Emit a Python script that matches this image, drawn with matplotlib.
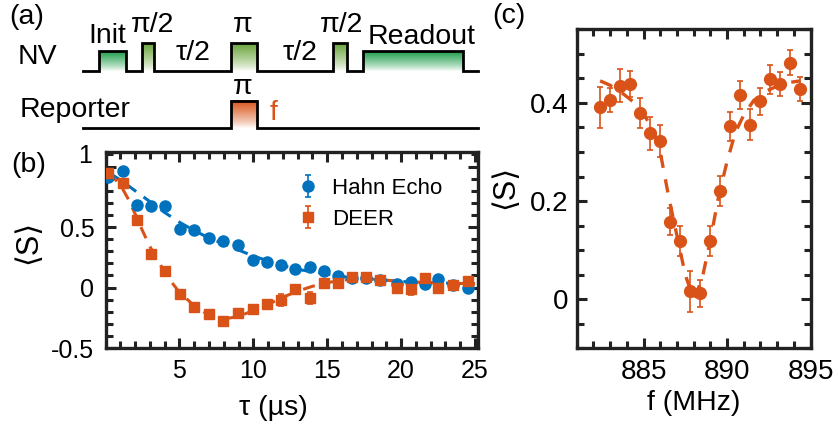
import matplotlib

matplotlib.use("Agg")
import matplotlib.pyplot as plt
import numpy as np
from matplotlib.colors import LinearSegmentedColormap
from matplotlib.ticker import MultipleLocator

plt.rcParams["font.family"] = ["Liberation Sans", "DejaVu Sans"]
plt.rcParams["axes.unicode_minus"] = False

BLUE = "#0072bd"
ORANGE = "#d95319"
INK = "#222222"
GREEN = "#1f9e4c"
OLIVE = "#6aa43a"

W, H = 838, 426

# (b) spin echo signal vs free evolution time
tau_us = [0.15, 1.2, 2.1, 3.1, 4.05, 5.05, 6.0, 7.0, 7.95, 8.95, 9.95, 10.9,
          11.85, 12.8, 13.85, 14.8, 15.7, 16.7, 17.65, 18.6, 19.7, 20.65,
          21.6, 22.5, 23.5, 24.55]
hahn_s = [0.91, 0.96, 0.68, 0.67, 0.67, 0.48, 0.475, 0.41, 0.385, 0.35, 0.23,
          0.21, 0.19, 0.15, 0.17, 0.135, 0.095, 0.08, 0.08, 0.06, 0.03, 0.045,
          0.03, 0.07, 0.02, 0.0]
hahn_err = [0.02, 0.02, 0.03, 0.03, 0.02, 0.02, 0.02, 0.03, 0.02, 0.02, 0.02,
            0.02, 0.03, 0.02, 0.03, 0.02, 0.02, 0.02, 0.02, 0.02, 0.02, 0.02,
            0.02, 0.03, 0.02, 0.02]
deer_s = [0.95, 0.86, 0.56, 0.28, 0.14, -0.05, -0.16, -0.22, -0.28, -0.21,
          -0.18, -0.14, -0.10, -0.01, -0.085, 0.04, 0.04, 0.085, 0.085, 0.065,
          0.0, -0.01, 0.08, 0.0, 0.02, 0.05]
deer_err = [0.02, 0.02, 0.02, 0.02, 0.02, 0.02, 0.02, 0.02, 0.02, 0.02, 0.02,
            0.02, 0.05, 0.02, 0.05, 0.02, 0.02, 0.02, 0.02, 0.02, 0.03, 0.05,
            0.03, 0.03, 0.03, 0.04]

hahn_fit_tau = [0.2, 1, 2, 3, 4, 5, 6, 7, 8, 9, 10, 11, 12, 13, 14, 15, 16,
                18, 20, 22, 25]
hahn_fit_s = [0.95, 0.89, 0.80, 0.71, 0.62, 0.54, 0.47, 0.41, 0.36, 0.31,
              0.26, 0.22, 0.18, 0.15, 0.13, 0.11, 0.09, 0.07, 0.05, 0.04, 0.03]
deer_fit_tau = [0.2, 1, 1.5, 2, 2.5, 3, 3.5, 4, 4.5, 5, 6, 7, 8, 9, 10, 11,
                12, 13, 14, 15, 16, 17, 18, 20, 22, 25]
deer_fit_s = [0.95, 0.85, 0.74, 0.61, 0.47, 0.34, 0.23, 0.13, 0.04, -0.04,
              -0.15, -0.23, -0.26, -0.24, -0.19, -0.14, -0.08, -0.03, 0.01,
              0.04, 0.06, 0.07, 0.07, 0.05, 0.04, 0.03]

# (c) DEER spectrum of the reporter spin
freq_mhz = [882.4, 883.0, 883.6, 884.2, 884.8, 885.4, 886.0, 886.6, 887.2,
            887.8, 888.4, 889.0, 889.6, 890.2, 890.8, 891.4, 892.0, 892.6,
            893.2, 893.8, 894.4]
spec_s = [0.391, 0.406, 0.435, 0.439, 0.379, 0.338, 0.322, 0.158, 0.119,
          0.016, 0.012, 0.119, 0.22, 0.352, 0.416, 0.356, 0.403, 0.448, 0.438,
          0.482, 0.428]
spec_err = [0.042, 0.024, 0.034, 0.026, 0.03, 0.033, 0.032, 0.027, 0.031,
            0.042, 0.028, 0.03, 0.031, 0.029, 0.029, 0.032, 0.027, 0.03,
            0.024, 0.026, 0.024]
spec_fit_f = [882.4, 883.0, 883.8, 884.4, 885.0, 885.6, 886.0, 886.5, 887.0,
              887.5, 888.0, 888.5, 889.0, 889.5, 890.0, 890.5, 891.0, 891.6,
              892.4, 893.4, 894.4]
spec_fit_s = [0.445, 0.436, 0.418, 0.402, 0.378, 0.343, 0.30, 0.21, 0.13,
              0.05, 0.0, 0.04, 0.12, 0.21, 0.28, 0.34, 0.375, 0.405, 0.425,
              0.44, 0.445]

# (a) pulse sequence layout, in figure pixels: (x0, x1, top, colour)
NV_BASE, REP_BASE = 70.7, 128.3
nv_pulses = [(99, 126, 50.7, GREEN), (142, 154, 43.3, OLIVE),
             (231, 257, 43.3, OLIVE), (333, 347, 43.3, OLIVE),
             (363, 463, 50.7, GREEN)]
rep_pulses = [(231, 257, 100.7, ORANGE)]
LINE_X0, LINE_X1 = 83, 478


def axes_px(left, top, right, bottom):
    return [left / W, 1 - bottom / H, (right - left) / W, (bottom - top) / H]


def draw_track(ax, pulses, base):
    xs, ys = [LINE_X0], [base]
    for x0, x1, top, color in pulses:
        grad = np.linspace(1, 0, 128).reshape(-1, 1) ** 0.8
        cmap = LinearSegmentedColormap.from_list("fade", ["white", color])
        ax.imshow(grad, cmap=cmap, extent=(x0, x1, base, top), origin="upper",
                  aspect="auto", interpolation="bilinear", zorder=1)
        xs += [x0, x0, x1, x1]
        ys += [base, top, top, base]
    xs.append(LINE_X1)
    ys.append(base)
    ax.plot(xs, ys, color="black", lw=2.0, solid_joinstyle="miter", zorder=2)


def style_axes(ax, size):
    for sp in ax.spines.values():
        sp.set_linewidth(2.4)
        sp.set_color(INK)
    ax.tick_params(which="both", direction="in", top=True, right=True,
                   color=INK, labelsize=size, pad=8)
    ax.tick_params(which="major", length=7.5, width=2.2)
    ax.tick_params(which="minor", length=5, width=2.2)


fig = plt.figure(figsize=(W / 100, H / 100), dpi=100)

# overlay in pixel coordinates for the schematic and free-standing labels
ov = fig.add_axes([0, 0, 1, 1])
ov.set_axis_off()
draw_track(ov, nv_pulses, NV_BASE)
draw_track(ov, rep_pulses, REP_BASE)
ov.set_xlim(0, W)
ov.set_ylim(H, 0)

txt = dict(ha="center", va="center", fontsize=20.5)
ov.text(27, 17, "(a)", **txt)
ov.text(37, 57, "NV", **txt)
ov.text(107, 36, "Init", **txt)
ov.text(153, 25, "π/2", **txt)
ov.text(193, 53, "τ/2", **txt)
ov.text(243, 25, "π", **txt)
ov.text(300, 53, "τ/2", **txt)
ov.text(342, 25, "π/2", **txt)
ov.text(422, 37, "Readout", **txt)
ov.text(75, 110, "Reporter", **txt)
ov.text(243, 87, "π", **txt)
ov.text(274, 113, "f", color=ORANGE, **txt)
ov.text(29, 165, "(b)", **txt)
ov.text(509, 16, "(c)", **txt)
ov.text(28, 242, "⟨S⟩", rotation=90, ha="center", va="center", fontsize=22)
ov.text(273, 408, "τ (µs)", **txt)
ov.text(505, 187, "⟨S⟩", rotation=90, ha="center", va="center", fontsize=22)
ov.text(694, 403, "f (MHz)", **txt)
# top label of (b) sits against the upper spine
ov.text(92, 156, "1", ha="right", va="center", fontsize=18)

# (b)
axb = fig.add_axes(axes_px(105.5, 152, 478, 348))
axb.set_facecolor("none")
dash = (4, 3)
axb.plot(hahn_fit_tau, hahn_fit_s, color=BLUE, lw=2.2, dashes=dash, zorder=1)
axb.plot(deer_fit_tau, deer_fit_s, color=ORANGE, lw=2.2, dashes=dash, zorder=1)
eb_kw = dict(ls="none", elinewidth=1.2, capsize=2.5, capthick=1.2, zorder=3)
hb = axb.errorbar(tau_us, hahn_s, yerr=hahn_err, fmt="o", color=BLUE, ms=8,
                  **eb_kw)
db = axb.errorbar(tau_us, deer_s, yerr=deer_err, fmt="s", color=ORANGE, ms=7.5,
                  **eb_kw)
axb.set_xlim(0, 25.2)
axb.set_ylim(-0.5, 1.12)
axb.set_xticks([5, 10, 15, 20, 25])
axb.set_yticks([-0.5, 0, 0.5, 1])
axb.set_yticklabels(["-0.5", "0", "0.5", ""])
axb.xaxis.set_minor_locator(MultipleLocator(1))
axb.yaxis.set_minor_locator(MultipleLocator(0.1))
style_axes(axb, 18)
axb.legend([hb, db], ["Hahn Echo", "DEER"], loc="upper left",
           bbox_to_anchor=(0.46, 0.97), frameon=False, fontsize=16,
           handlelength=1.0, handletextpad=0.6, labelspacing=0.45)

# (c)
axc = fig.add_axes(axes_px(576.7, 29.3, 810.5, 348.3))
axc.set_facecolor("none")
axc.plot(spec_fit_f, spec_fit_s, color=ORANGE, lw=2.4, dashes=(4, 3.5),
         zorder=1)
axc.errorbar(freq_mhz, spec_s, yerr=spec_err, fmt="o", color=ORANGE, ms=8.5,
             **eb_kw)
axc.set_xlim(881, 895)
axc.set_ylim(-0.1, 0.55)
axc.set_xticks([885, 890, 895])
axc.set_yticks([0, 0.2, 0.4])
axc.set_yticklabels(["0", "0.2", "0.4"])
axc.xaxis.set_minor_locator(MultipleLocator(1))
axc.yaxis.set_minor_locator(MultipleLocator(0.05))
style_axes(axc, 20)
axc.tick_params(axis="y", pad=6)

fig.savefig("out.png", dpi=100)
